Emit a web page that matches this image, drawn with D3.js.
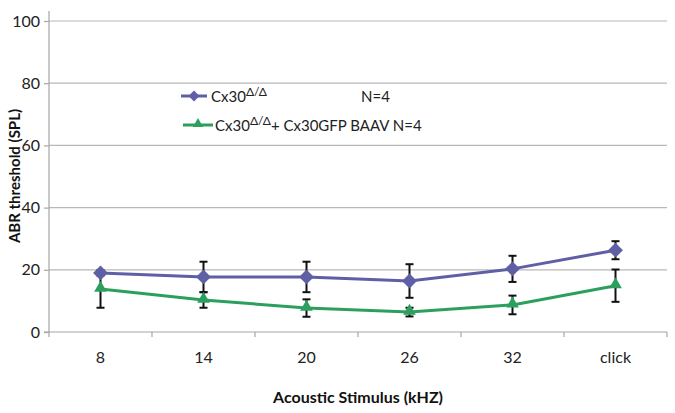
<!DOCTYPE html>
<html><head><meta charset="utf-8">
<script src="https://cdn.jsdelivr.net/npm/d3@7"></script>
<style>body{margin:0;background:#fff}svg{display:block}text{font-family:Lato,"Open Sans","Liberation Sans",sans-serif}</style>
</head><body><svg id="c" width="675" height="413"></svg>
<script>
const categories = ["8","14","20","26","32","click"];
const blueValues = [19.0, 17.7, 17.7, 16.4, 20.3, 26.3];
const blueErrors = [0.8, 4.9, 4.9, 5.4, 4.2, 2.9];
const greenValues = [13.8, 10.3, 7.7, 6.4, 8.7, 14.9];
const greenErrors = [6.0, 2.5, 2.8, 1.4, 3.0, 5.2];
const yTicks = [0, 20, 40, 60, 80, 100];

const svg = d3.select("#c");
const L = 49, R = 667, T = 21, B = 332;
const x = d3.scaleBand().domain(categories).range([L, R]);
const y = d3.scaleLinear().domain([0, 100]).range([B, T]);
const blue = "#5f5fa6", green = "#2ba05e";

svg.append("g").selectAll("line").data(yTicks.filter(d => d > 0)).join("line")
  .attr("x1", L).attr("x2", R).attr("y1", d => y(d)).attr("y2", d => y(d))
  .attr("stroke", "#b8b8b8").attr("stroke-width", 1.2);

const ya = svg.append("g").attr("transform", `translate(${L},0)`)
  .call(d3.axisLeft(y).tickValues(yTicks).tickSize(5).tickPadding(4));
ya.select(".domain").attr("stroke", "#a6a6a6").attr("stroke-width", 1.2).attr("d", `M-5,${B}H0V${T - 10}`);
ya.selectAll(".tick line").attr("stroke", "#a6a6a6").attr("stroke-width", 1.2);
ya.selectAll(".tick text").attr("font-size", 16).attr("fill", "#222");

const xa = svg.append("g").attr("transform", `translate(0,${B})`)
  .call(d3.axisBottom(x).tickSize(0).tickPadding(20));
xa.select(".domain").attr("stroke", "#a6a6a6").attr("stroke-width", 1.2).attr("d", `M${L},0H${R}`);
xa.selectAll(".tick text").attr("font-size", 16).attr("fill", "#222");
const bounds = categories.map(c => x(c)).concat([R]);
xa.append("g").selectAll("line").data(bounds).join("line")
  .attr("x1", d => d).attr("x2", d => d).attr("y1", 0).attr("y2", 5)
  .attr("stroke", "#a6a6a6").attr("stroke-width", 1.2);

const cx = c => x(c) + x.bandwidth() / 2;

function errBars(vals, errs) {
  const g = svg.append("g").attr("stroke", "#111").attr("stroke-width", 2);
  categories.forEach((c, i) => {
    const xc = cx(c), y1 = y(vals[i] + errs[i]), y2 = y(vals[i] - errs[i]);
    g.append("line").attr("x1", xc).attr("x2", xc).attr("y1", y1).attr("y2", y2);
    g.append("line").attr("x1", xc - 4).attr("x2", xc + 4).attr("y1", y1).attr("y2", y1);
    g.append("line").attr("x1", xc - 4).attr("x2", xc + 4).attr("y1", y2).attr("y2", y2);
  });
}
errBars(blueValues, blueErrors);
errBars(greenValues, greenErrors);

const line = d3.line().x((d, i) => cx(categories[i])).y(d => y(d));
svg.append("path").datum(greenValues).attr("d", line).attr("fill", "none").attr("stroke", green).attr("stroke-width", 3);
svg.append("path").datum(blueValues).attr("d", line).attr("fill", "none").attr("stroke", blue).attr("stroke-width", 3);

const diamond = d3.symbol().type(d3.symbolDiamond2).size(140);
const tri = d3.symbol().type(d3.symbolTriangle).size(70);
svg.append("g").selectAll("path").data(greenValues).join("path")
  .attr("d", tri).attr("fill", green)
  .attr("transform", (d, i) => `translate(${cx(categories[i])},${y(d) - 1})`);
svg.append("g").selectAll("path").data(blueValues).join("path")
  .attr("d", diamond).attr("fill", blue)
  .attr("transform", (d, i) => `translate(${cx(categories[i])},${y(d)})`);

const lg = svg.append("g");
lg.append("line").attr("x1", 181).attr("x2", 207).attr("y1", 96).attr("y2", 96).attr("stroke", blue).attr("stroke-width", 3);
lg.append("path").attr("d", d3.symbol().type(d3.symbolDiamond2).size(75)).attr("fill", blue).attr("transform", "translate(194,96)");
const t1 = lg.append("text").attr("x", 211).attr("y", 102).attr("font-size", 15).attr("fill", "#222");
t1.append("tspan").text("Cx30");
t1.append("tspan").attr("dy", -6).attr("font-size", 12).text("Δ/Δ");
lg.append("text").attr("x", 361).attr("y", 102).attr("font-size", 15).attr("fill", "#222").text("N=4");

lg.append("line").attr("x1", 183).attr("x2", 213).attr("y1", 125).attr("y2", 125).attr("stroke", green).attr("stroke-width", 3);
lg.append("path").attr("d", d3.symbol().type(d3.symbolTriangle).size(45)).attr("fill", green).attr("transform", "translate(198,124)");
const t2 = lg.append("text").attr("x", 215).attr("y", 131).attr("font-size", 15).attr("fill", "#222");
t2.append("tspan").text("Cx30");
t2.append("tspan").attr("dy", -6).attr("font-size", 12).text("Δ/Δ");
t2.append("tspan").attr("dy", 6).text("+ Cx30GFP BAAV  N=4");

svg.append("text").attr("transform", "translate(20,176) rotate(-90)").attr("text-anchor", "middle")
  .attr("font-size", 15).attr("font-weight", "bold").attr("fill", "#111").text("ABR threshold (SPL)");
svg.append("text").attr("x", 358).attr("y", 403).attr("text-anchor", "middle")
  .attr("font-size", 16).attr("font-weight", "bold").attr("fill", "#111").text("Acoustic Stimulus (kHZ)");
</script></body></html>
